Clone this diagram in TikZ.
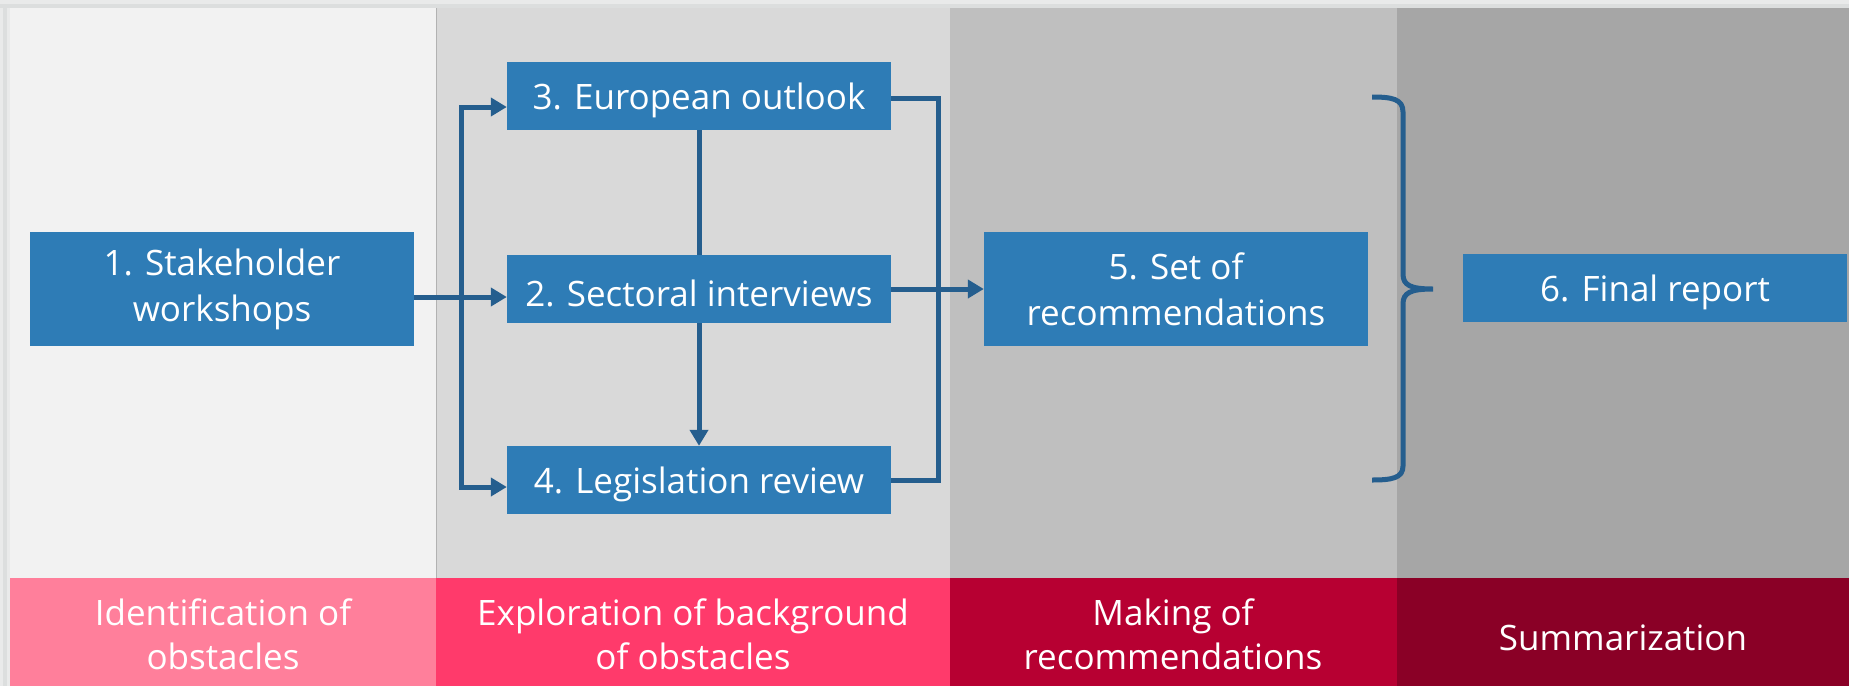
\documentclass[tikz,border=0pt]{standalone}
\usepackage{fontspec}
\setmainfont{Open Sans}
\usetikzlibrary{arrows.meta,calc}
\definecolor{nodeblue}{HTML}{2E7CB6}
\definecolor{linkblue}{HTML}{255E8E}
\definecolor{framegray}{HTML}{E9EAEA}
\definecolor{framedark}{HTML}{DCDEDE}
\definecolor{colA}{HTML}{F2F2F2}
\definecolor{colB}{HTML}{D9D9D9}
\definecolor{colC}{HTML}{BFBFBF}
\definecolor{colD}{HTML}{A6A6A6}
\definecolor{bandA}{HTML}{FF7F9B}
\definecolor{bandB}{HTML}{FF3A6B}
\definecolor{bandC}{HTML}{B70032}
\definecolor{bandD}{HTML}{8A0026}
\tikzset{
  box/.style={fill=nodeblue, text=white, inner sep=0pt, minimum width=384pt, align=center,
    font=\fontsize{35}{46}\selectfont, execute at begin node={\rule{0pt}{35pt}}},
  tallbox/.style={box, minimum height=114pt},
  flatbox/.style={box, minimum height=68pt},
  conn/.style={linkblue, line width=5pt},
  arr/.style={conn, -{Triangle[length=16pt,width=18pt]}},
  bandtext/.style={text=white, align=center, font=\fontsize{35}{44}\selectfont}
}
\begin{document}
\begin{tikzpicture}[x=1pt,y=-1pt]
\useasboundingbox (0,0) rectangle (1849,686);
\fill[framegray] (0,0) rectangle (1849,686);
\fill[framedark] (0,4) rectangle (1849,8);
\fill[framedark] (3,4) rectangle (7,686);
\fill[colA] (10,8) rectangle (436,578);
\fill[colB] (436,8) rectangle (950,578);
\fill[colC] (950,8) rectangle (1397,578);
\fill[colD] (1397,8) rectangle (1849,578);
\draw[black!30, line width=0.8pt] (436,8) -- (436,578);
\fill[bandA] (10,578) rectangle (436,686);
\fill[bandB] (436,578) rectangle (950,686);
\fill[bandC] (950,578) rectangle (1397,686);
\fill[bandD] (1397,578) rectangle (1849,686);
\node[bandtext] (b1) at (223,634) {Identification of\\obstacles};
\node[bandtext] (b2) at (693,634) {Exploration of background\\of obstacles};
\node[bandtext] (b3) at (1173,634) {Making of\\recommendations};
\node[bandtext] (b4) at (1623,638) {Summarization};

\node[tallbox] (n1) at (222,289) {1. Stakeholder\\workshops};
\node[flatbox] (n3) at (699,96) {3. European outlook};
\node[flatbox] (n2) at (699,289) {2. Sectoral interviews};
\node[flatbox] (n4) at (699,480) {4. Legislation review};
\node[tallbox] (n5) at (1176,289) {5. Set of\\recommendations};
\node[flatbox] (n6) at (1655,288) {6. Final report};

\coordinate (sp) at (461,297);
\coordinate (rj) at (938,289);
\draw[arr] ([yshift=-8pt]n1.east) -- ([yshift=-8pt]n2.west);
\draw[arr] (sp) |- ([yshift=-11pt]n3.west);
\draw[arr] (sp) |- ([yshift=-7pt]n4.west);
\draw[conn] (n3.south) -- (n2.north);
\draw[arr] (n2.south) -- (n4.north);
\draw[conn] ([yshift=-2pt]n3.east) -| (rj) |- (n4.east);
\draw[arr] (n2.east) -- (n5.west);

\coordinate (bt) at (1372,97);
\coordinate (bb) at (1372,480);
\coordinate (tip) at (1433,289);
\draw[conn] (bt) .. controls (1392,97) and (1403,99) .. (1403,112) -- (1403,274)
  .. controls (1403,285) and (1410,289) .. (tip)
  .. controls (1410,289) and (1403,293) .. (1403,304) -- (1403,466)
  .. controls (1403,478) and (1392,480) .. (bb);
\end{tikzpicture}
\end{document}
